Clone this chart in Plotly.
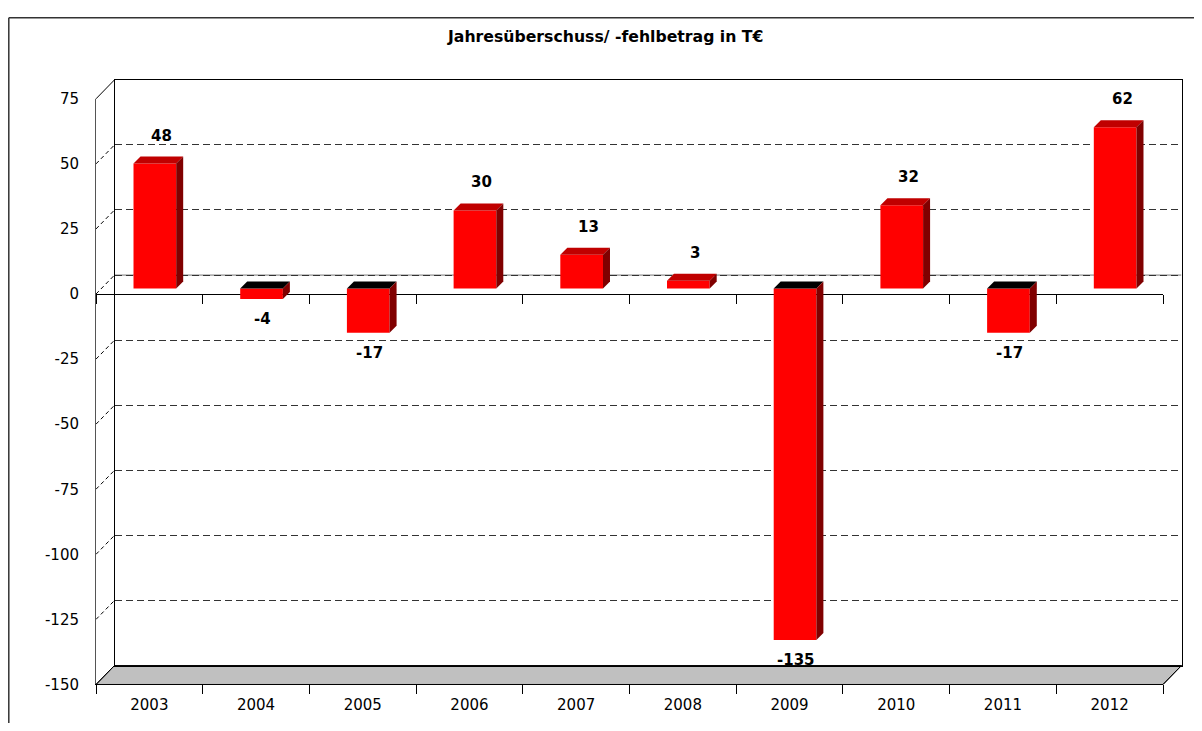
import plotly.graph_objects as go

# ---------------- data ----------------
years = ['2003', '2004', '2005', '2006', '2007', '2008', '2009', '2010', '2011', '2012']
values = [48, -4, -17, 30, 13, 3, -135, 32, -17, 62]
y_ticks = [-150, -125, -100, -75, -50, -25, 0, 25, 50, 75]
y_tick_text = ['-150', '-125', '-100', '-75', '-50', '-25', '0', '25', '50', '75']
title_text = 'Jahresüberschuss/ -fehlbetrag in T€'

# ---------------- layout geometry (screen pixels of the photographed page) ----------------
PAGE_W, PAGE_H = 1202, 731
OFF = 8                                    # body margin of the html page
KY, CY = 0.977, 8.2                        # observed vertical page->photo mapping
W, H = PAGE_W - 2 * OFF, PAGE_H - 2 * OFF  # figure size fits the window exactly
FL, FR, FT, FB = 96, 1163, 98, 685         # front plane
DX, DY = 18.5, 19                          # depth of the chart box
BOX, BOY = 5.5, 5.5                        # bar plane offset from front
BD = 7                                     # bar depth
Y_MIN, Y_MAX = -150, 75
BAR_W = 0.4
FONT = 'DejaVu Sans'

n = len(years)
px_per_cat = (FR - FL) / n
px_per_unit = (FB - FT) / (Y_MAX - Y_MIN)
ddx = BD / px_per_cat
ddy = BD / px_per_unit


def px(x):
    return (x - OFF) / W


def py(y):
    page_y = (y - CY) / KY
    return 1 - (page_y - OFF) / H


def front_y(v):
    return FB - (v - Y_MIN) * px_per_unit


fig = go.Figure()

# invisible traces to establish the category axes
fig.add_trace(go.Scatter(x=years, y=[0] * n, xaxis='x2', yaxis='y2', mode='markers',
                         marker=dict(opacity=0), hoverinfo='skip', showlegend=False))
fig.add_trace(go.Scatter(x=years, y=[0] * n, xaxis='x4', yaxis='y2', mode='markers',
                         marker=dict(opacity=0), hoverinfo='skip', showlegend=False))
fig.add_trace(go.Scatter(x=[0], y=[0], xaxis='x', yaxis='y', mode='markers',
                         marker=dict(opacity=0), hoverinfo='skip', showlegend=False))

# bars (front faces)
idx = list(range(n))
fig.add_trace(go.Bar(x=idx, y=values, width=BAR_W, xaxis='x3', yaxis='y3',
                     marker=dict(color='#FF0000', line=dict(width=0)),
                     hoverinfo='skip', showlegend=False))

shapes = []
# 3D faces of the bars
for i, v in enumerate(values):
    top = max(v, 0)
    bot = min(v, 0)
    xl = i - BAR_W / 2
    xr = i + BAR_W / 2
    top_col = '#C00000' if v > 0 else '#000000'
    shapes.append(dict(type='path', xref='x3', yref='y3', layer='above',
                       path=f'M {xl},{top} L {xr},{top} L {xr+ddx},{top+ddy} L {xl+ddx},{top+ddy} Z',
                       fillcolor=top_col, line=dict(width=0)))
    shapes.append(dict(type='path', xref='x3', yref='y3', layer='above',
                       path=f'M {xr},{top} L {xr+ddx},{top+ddy} L {xr+ddx},{bot+ddy} L {xr},{bot} Z',
                       fillcolor='#800000', line=dict(width=0)))

# floor
shapes.append(dict(type='path', xref='paper', yref='paper', layer='below',
                   path=f'M {px(FL)},{py(FB)} L {px(FR)},{py(FB)} L {px(FR+DX)},{py(FB-DY)} '
                        f'L {px(FL+DX)},{py(FB-DY)} Z',
                   fillcolor='#C0C0C0', line=dict(color='black', width=1)))
# side wall diagonals
for v in y_ticks:
    solid = v in (Y_MIN, Y_MAX)
    shapes.append(dict(type='line', xref='paper', yref='paper', layer='below',
                       x0=px(FL), y0=py(front_y(v)), x1=px(FL + DX), y1=py(front_y(v) - DY),
                       line=dict(color='black', width=1, dash='solid' if solid else '4px,3px')))
shapes.append(dict(type='line', xref='paper', yref='paper', layer='below',
                   x0=px(FR), y0=py(FB), x1=px(FR + DX), y1=py(FB - DY),
                   line=dict(color='black', width=1)))
# solid zero line on back wall
shapes.append(dict(type='line', xref='x', yref='y', layer='below',
                   x0=-0.5, x1=n - 0.5, y0=0, y1=0, line=dict(color='#777777', width=1)))
# outer chart border (left and top edges)
shapes.append(dict(type='line', xref='paper', yref='paper', x0=px(8.8), x1=px(8.8), y0=0.999, y1=-0.1,
                   line=dict(color='#333333', width=1.5)))
shapes.append(dict(type='line', xref='paper', yref='paper', x0=px(8.8), x1=1.1, y0=0.999, y1=0.999,
                   line=dict(color='#333333', width=1.5)))

annotations = []
for i, v in enumerate(values):
    if v >= 0:
        annotations.append(dict(x=i, y=v, xref='x3', yref='y3', text=f'<b>{v}</b>', showarrow=False,
                                yanchor='bottom', xanchor='center', xshift=7, yshift=17,
                                font=dict(family=FONT, size=15, color='black')))
    else:
        annotations.append(dict(x=i, y=v, xref='x3', yref='y3', text=f'<b>{v}</b>', showarrow=False,
                                yanchor='top', xanchor='center', xshift=1, yshift=-9,
                                font=dict(family=FONT, size=15, color='black')))

annotations.append(dict(x=px(605), y=py(36), xref='paper', yref='paper', text=f'<b>{title_text}</b>',
                        showarrow=False, xanchor='center', yanchor='middle',
                        font=dict(family=FONT, size=15.7, color='black')))

fig.update_layout(
    width=W, height=H, margin=dict(l=0, r=0, t=0, b=0),
    paper_bgcolor='white', plot_bgcolor='rgba(0,0,0,0)',
    showlegend=False, shapes=shapes, annotations=annotations,
    font=dict(family=FONT, size=15, color='black'),
    # back plane
    xaxis=dict(domain=[px(FL + DX), px(FR + DX)], range=[-0.5, n - 0.5], showgrid=False, zeroline=False,
               showline=True, mirror=True, linecolor='black', linewidth=1, showticklabels=False, ticks=''),
    yaxis=dict(domain=[py(FB - DY), py(FT - DY)], range=[Y_MIN, Y_MAX], tickvals=y_ticks,
               showgrid=True, gridcolor='#333333', griddash='7px,4px', gridwidth=1, zeroline=False,
               showline=True, mirror=True, linecolor='black', linewidth=1, showticklabels=False, ticks=''),
    # front plane
    xaxis2=dict(domain=[px(FL), px(FR)], type='category', categoryorder='array', categoryarray=years,
                range=[-0.5, n - 0.5], anchor='y2', showgrid=False, zeroline=False,
                showline=True, linecolor='black', linewidth=1, ticks='outside', tickson='boundaries',
                ticklen=9, tickcolor='black', tickwidth=1, ticklabelstandoff=7,
                tickfont=dict(family=FONT, size=15, color='black')),
    yaxis2=dict(domain=[py(FB), py(FT)], range=[Y_MIN, Y_MAX], tickvals=y_ticks, ticktext=y_tick_text,
                anchor='x2', showgrid=False, zeroline=False, showline=True, linecolor='#555555', linewidth=1,
                ticks='outside', ticklen=13, tickcolor='rgba(0,0,0,0)',
                tickfont=dict(family=FONT, size=15, color='black')),
    # category axis at value 0 on the front plane
    xaxis4=dict(overlaying='x2', type='category', categoryorder='array', categoryarray=years,
                range=[-0.5, n - 0.5], anchor='free', position=py(front_y(0)), showgrid=False,
                zeroline=False, showline=True, linecolor='black', linewidth=1, ticks='outside',
                tickson='boundaries', ticklen=9, tickcolor='black', tickwidth=1, showticklabels=False,
                layer='below traces'),
    # bar plane
    xaxis3=dict(domain=[px(FL + BOX), px(FR + BOX)], range=[-0.5, n - 0.5], anchor='y3', visible=False),
    yaxis3=dict(domain=[py(FB - BOY), py(FT - BOY)], range=[Y_MIN, Y_MAX], anchor='x3', visible=False),
)

fig.write_html('out.html')
